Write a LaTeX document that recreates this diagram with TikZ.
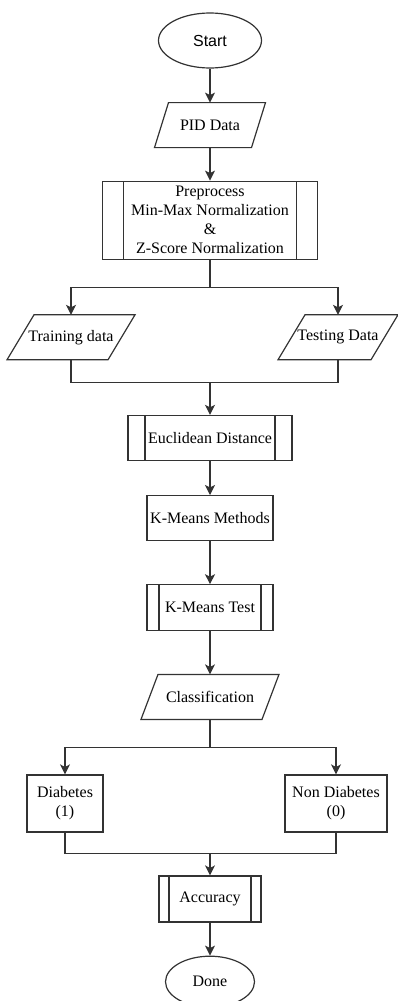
\documentclass[tikz,border=0pt]{standalone}
\usepackage{fontspec}
\setmainfont{Liberation Serif}
\newfontfamily\startfont{Liberation Sans}
\usetikzlibrary{arrows.meta, positioning, shapes.geometric, calc}

\begin{document}
\begin{tikzpicture}[
  x=1pt, y=-1pt,
  >={Stealth[length=10pt, width=10pt, inset=2.5pt]},
  every node/.style = {font=\fontsize{16}{19}\selectfont},
  %-- block styles -------------------------------------------------------
  terminal/.style = {draw=black!80, line width=1.2pt, ellipse,
                     inner sep=0pt, align=center},
  iobox/.style    = {rectangle, inner sep=0pt, outer sep=0pt,
                     minimum height=45pt, align=center,
                     append after command={\pgfextra{%
                       \draw[black!80, line width=1.2pt]
                         (\tikzlastnode.south west) --
                         ([xshift=#1]\tikzlastnode.north west) --
                         (\tikzlastnode.north east) --
                         ([xshift=-#1]\tikzlastnode.south east) -- cycle;}}},
  procbox/.style  = {draw=black!80, line width=1.2pt, rectangle,
                     inner sep=0pt, align=center},
  subproc/.style  = {procbox, path picture={
      \draw[black!80, line width=1.2pt]
        ([xshift=#1]path picture bounding box.north west) --
        ([xshift=#1]path picture bounding box.south west);
      \draw[black!80, line width=1.2pt]
        ([xshift=-#1]path picture bounding box.north east) --
        ([xshift=-#1]path picture bounding box.south east);}},
  arrow/.style    = {->, line width=1.2pt, draw=black!80},
  joinline/.style = {line width=1.2pt, draw=black!80},
]
\useasboundingbox (0,0) rectangle (398,1001);

% ── Start and input ───────────────────────────────────────────────────────────
\node[terminal, minimum width=103pt, minimum height=55pt] (start) at (210,40.5) {\startfont Start};
\node[iobox=14pt, below=34pt of start, minimum width=111pt] (pid) {PID Data};
\node[subproc=21pt, below=33pt of pid, minimum width=215pt, minimum height=78pt] (prep)
  {Preprocess\\Min-Max Normalization\\\&\\Z-Score Normalization};

% ── Data split ────────────────────────────────────────────────────────────────
\node[iobox=27pt, below=55pt of prep, xshift=-139pt, minimum width=128pt] (train) {Training data};
\node[iobox=27pt, below=55pt of prep, xshift=128pt, minimum width=120pt] (test) {Testing Data};

% ── K-Means steps ─────────────────────────────────────────────────────────────
\node[subproc=17pt, below=155pt of prep, minimum width=164pt, minimum height=45pt] (euc) {Euclidean Distance};
\node[procbox, below=34pt of euc, minimum width=126pt, minimum height=45pt] (kmm) {K-Means Methods};
\node[subproc=12pt, below=43pt of kmm, minimum width=126pt, minimum height=46pt] (kmt) {K-Means Test};
\node[iobox=17pt, below=43pt of kmt, minimum width=138pt] (cls) {Classification};

% ── Classes and result ────────────────────────────────────────────────────────
\node[procbox, below=55pt of cls, xshift=-145pt, minimum width=76pt, minimum height=57pt] (diab) {Diabetes\\(1)};
\node[procbox, below=55pt of cls, xshift=126pt, minimum width=102pt, minimum height=57pt] (nondiab) {Non Diabetes\\(0)};
\node[subproc=10pt, below=156pt of cls, minimum width=102pt, minimum height=46pt] (acc) {Accuracy};
\node[terminal, below=33pt of acc, minimum width=89pt, minimum height=51pt] (done) {Done};

% ── Connectors ────────────────────────────────────────────────────────────────
\coordinate (split1) at ($(prep.south)+(0,28)$);
\coordinate (join1)  at ($(euc.north)+(0,-32)$);
\coordinate (split2) at ($(cls.south)+(0,28)$);
\coordinate (join2)  at ($(acc.north)+(0,-22)$);

\draw[arrow] (start) -- (pid);
\draw[arrow] (pid) -- (prep);
\draw[joinline] (prep) -- (split1);
\draw[arrow] (split1) -| (train);
\draw[arrow] (split1) -| (test);
\draw[joinline] (train) |- (join1);
\draw[joinline] (test) |- (join1);
\draw[arrow] (join1) -- (euc);
\draw[arrow] (euc) -- (kmm);
\draw[arrow] (kmm) -- (kmt);
\draw[arrow] (kmt) -- (cls);
\draw[joinline] (cls) -- (split2);
\draw[arrow] (split2) -| (diab);
\draw[arrow] (split2) -| (nondiab);
\draw[joinline] (diab) |- (join2);
\draw[joinline] (nondiab) |- (join2);
\draw[arrow] (join2) -- (acc);
\draw[arrow] (acc) -- (done);

\end{tikzpicture}
\end{document}
